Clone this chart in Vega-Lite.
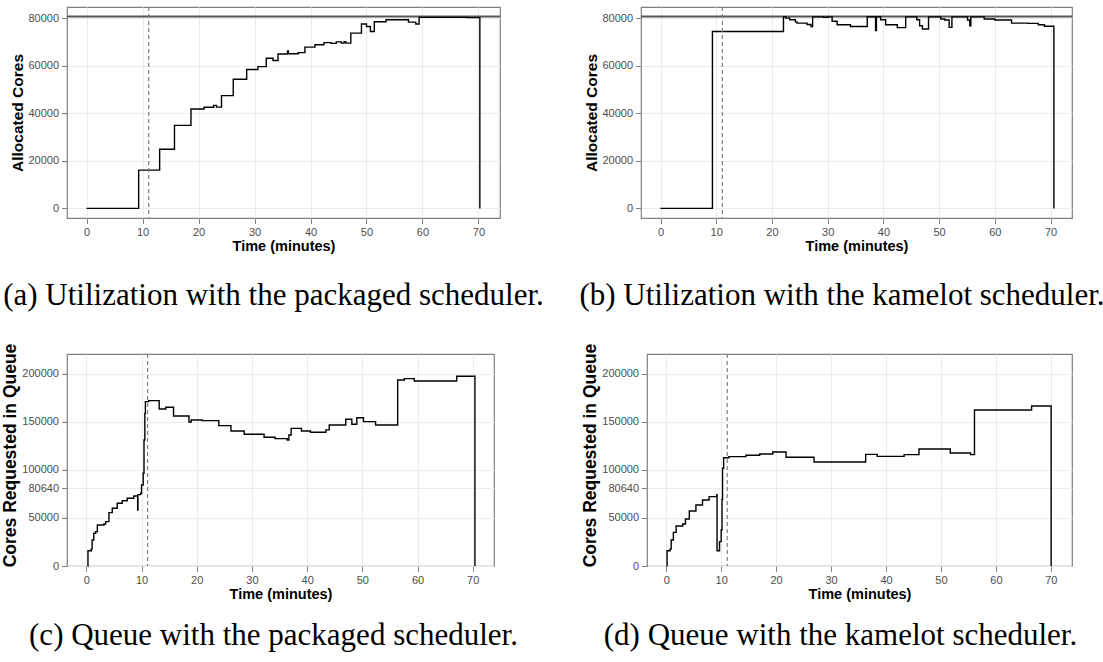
{
  "$schema": "https://vega.github.io/schema/vega-lite/v6.json",
  "usermeta": {"embedOptions": {"actions": false}},
  "background": "white",
  "padding": {"left": 1, "top": 5, "right": 0, "bottom": 0},
  "config": {
    "view": {"stroke": "#7f7f7f", "strokeWidth": 1.2},
    "axis": {
      "domain": false, "grid": true, "gridColor": "#ebebeb", "gridWidth": 1,
      "tickColor": "#7f7f7f", "tickSize": 5.5, "tickWidth": 1,
      "labelColor": "#4d4d4d", "labelFont": "Liberation Sans", "labelFontSize": 11, "labelPadding": 3,
      "titleFont": "Liberation Sans", "titleFontSize": 14.5, "titleFontWeight": "bold", "titleColor": "#000000", "titlePadding": 2
    },
    "title": {"font": "Liberation Serif", "fontSize": 31, "fontWeight": "normal", "color": "#000000", "orient": "bottom", "frame": "group", "anchor": "middle", "baseline": "alphabetic"}
  },
  "datasets": {
    "ref": [{"t": 11.1, "cap": 80640}],
    "a": [
      {"t": 0, "v": 0}, {"t": 9.3, "v": 16100}, {"t": 13.05, "v": 24900}, {"t": 15.7, "v": 34900}, {"t": 18.65, "v": 41800},
      {"t": 21.0, "v": 42500}, {"t": 22.7, "v": 43300}, {"t": 23.2, "v": 42600}, {"t": 24.1, "v": 47400}, {"t": 26.2, "v": 54300},
      {"t": 28.6, "v": 58400}, {"t": 30.6, "v": 59600}, {"t": 32.1, "v": 63100}, {"t": 33.3, "v": 62200}, {"t": 34.2, "v": 64900},
      {"t": 35.9, "v": 66200}, {"t": 36.05, "v": 65000}, {"t": 37.8, "v": 65500}, {"t": 39.0, "v": 67800}, {"t": 40.8, "v": 68800},
      {"t": 42.4, "v": 69700}, {"t": 43.7, "v": 69400}, {"t": 44.6, "v": 70000}, {"t": 45.5, "v": 69500}, {"t": 46.0, "v": 70100},
      {"t": 46.3, "v": 69500}, {"t": 47.2, "v": 73700}, {"t": 49.1, "v": 77500}, {"t": 50.0, "v": 76500}, {"t": 50.7, "v": 74400},
      {"t": 51.4, "v": 78500}, {"t": 53.5, "v": 79300}, {"t": 57.5, "v": 78300}, {"t": 58.8, "v": 77500}, {"t": 59.4, "v": 80300},
      {"t": 68.0, "v": 80200}, {"t": 70.25, "v": 0}
    ],
    "b": [
      {"t": 0, "v": 0}, {"t": 9.32, "v": 74400}, {"t": 22.07, "v": 80600}, {"t": 22.5, "v": 80000}, {"t": 23.2, "v": 79300},
      {"t": 24.2, "v": 78400}, {"t": 24.5, "v": 77900}, {"t": 26.3, "v": 77300}, {"t": 27.0, "v": 76500}, {"t": 27.3, "v": 80500},
      {"t": 29.3, "v": 80300}, {"t": 30.0, "v": 80500}, {"t": 30.8, "v": 78700}, {"t": 31.7, "v": 77200}, {"t": 34.1, "v": 76500},
      {"t": 37.1, "v": 80600}, {"t": 38.6, "v": 74800}, {"t": 38.75, "v": 80600}, {"t": 39.5, "v": 79300}, {"t": 40.4, "v": 77200},
      {"t": 42.5, "v": 76000}, {"t": 44.0, "v": 80500}, {"t": 46.0, "v": 79300}, {"t": 46.5, "v": 76800}, {"t": 47.0, "v": 75400},
      {"t": 48.1, "v": 80500}, {"t": 50.3, "v": 79600}, {"t": 51.0, "v": 79200}, {"t": 51.8, "v": 76100}, {"t": 52.3, "v": 80500},
      {"t": 55.1, "v": 79200}, {"t": 55.5, "v": 76800}, {"t": 55.7, "v": 80500}, {"t": 58.1, "v": 79600}, {"t": 60.0, "v": 79200},
      {"t": 63.0, "v": 77900}, {"t": 66.0, "v": 77800}, {"t": 67.8, "v": 77200}, {"t": 68.9, "v": 76600}, {"t": 70.6, "v": 0}
    ],
    "c": [
      {"t": 0.2, "v": 0}, {"t": 0.3, "v": 15900}, {"t": 0.9, "v": 17500}, {"t": 1.05, "v": 27000}, {"t": 1.35, "v": 34000},
      {"t": 1.7, "v": 35700}, {"t": 2.0, "v": 42600}, {"t": 3.2, "v": 43700}, {"t": 3.5, "v": 46100}, {"t": 4.1, "v": 55500},
      {"t": 4.7, "v": 60000}, {"t": 5.6, "v": 65200}, {"t": 6.5, "v": 67900}, {"t": 7.4, "v": 70400}, {"t": 8.6, "v": 72800},
      {"t": 9.3, "v": 58200}, {"t": 9.35, "v": 74200}, {"t": 9.85, "v": 75600}, {"t": 10.0, "v": 84200}, {"t": 10.3, "v": 96400},
      {"t": 10.45, "v": 131000}, {"t": 10.6, "v": 158700}, {"t": 10.7, "v": 170900}, {"t": 11.3, "v": 171900}, {"t": 13.2, "v": 163200},
      {"t": 14.4, "v": 165000}, {"t": 15.8, "v": 156000}, {"t": 18.6, "v": 149700}, {"t": 19.0, "v": 151800}, {"t": 21.0, "v": 151100},
      {"t": 24.0, "v": 145900}, {"t": 26.2, "v": 140400}, {"t": 28.6, "v": 136900}, {"t": 32.2, "v": 133800}, {"t": 34.2, "v": 132400},
      {"t": 36.4, "v": 131000}, {"t": 36.7, "v": 136200}, {"t": 37.1, "v": 143100}, {"t": 38.96, "v": 140400}, {"t": 40.6, "v": 139000},
      {"t": 43.4, "v": 141500}, {"t": 44.0, "v": 146600}, {"t": 47.0, "v": 152500}, {"t": 48.1, "v": 147300}, {"t": 49.0, "v": 154200},
      {"t": 50.2, "v": 150100}, {"t": 52.4, "v": 146600}, {"t": 56.4, "v": 193400}, {"t": 57.6, "v": 194800}, {"t": 59.4, "v": 192400},
      {"t": 67.1, "v": 197200}, {"t": 70.4, "v": 0}
    ],
    "d": [
      {"t": 0.1, "v": 0}, {"t": 0.15, "v": 15900}, {"t": 0.7, "v": 17500}, {"t": 0.9, "v": 27000}, {"t": 1.3, "v": 35000},
      {"t": 1.8, "v": 41600}, {"t": 3.0, "v": 43700}, {"t": 3.5, "v": 48900}, {"t": 4.2, "v": 57200}, {"t": 5.4, "v": 63400},
      {"t": 6.6, "v": 68600}, {"t": 7.8, "v": 72100}, {"t": 9.2, "v": 74200}, {"t": 9.25, "v": 15900}, {"t": 9.7, "v": 25300},
      {"t": 10.0, "v": 37400}, {"t": 10.15, "v": 69300}, {"t": 10.25, "v": 101600}, {"t": 10.45, "v": 112600}, {"t": 11.4, "v": 113700},
      {"t": 14.5, "v": 115100}, {"t": 17.0, "v": 116500}, {"t": 19.4, "v": 118500}, {"t": 21.8, "v": 113000}, {"t": 26.9, "v": 108100},
      {"t": 36.3, "v": 116100}, {"t": 38.4, "v": 114000}, {"t": 43.3, "v": 115800}, {"t": 46.0, "v": 121700}, {"t": 51.7, "v": 117500},
      {"t": 55.4, "v": 115800}, {"t": 56.1, "v": 162200}, {"t": 66.5, "v": 166400}, {"t": 70.05, "v": 0}
    ]
  },
  "vconcat": [
    {
      "spacing": 141,
      "bounds": "flush",
      "hconcat": [
        {
          "width": 433, "height": 211,
          "title": {"text": "(a) Utilization with the packaged scheduler.", "dx": -10, "offset": 28},
          "layer": [
            {"data": {"name": "ref"}, "mark": {"type": "rule", "color": "#555555", "strokeWidth": 2},
             "encoding": {"y": {"field": "cap", "type": "quantitative", "scale": {"domain": [-4032, 84672], "nice": false, "zero": false}, "axis": {"title": "Allocated Cores", "titleFontSize": 15.5, "values": [0, 20000, 40000, 60000, 80000], "format": "d"}}}},
            {"data": {"name": "a"}, "mark": {"type": "line", "interpolate": "step-after", "color": "#000000", "strokeWidth": 1.4},
             "encoding": {"x": {"field": "t", "type": "quantitative", "scale": {"domain": [-3.5, 73.85], "nice": false, "zero": false}, "axis": {"title": "Time (minutes)", "values": [0, 10, 20, 30, 40, 50, 60, 70]}},
                          "y": {"field": "v", "type": "quantitative", "scale": {"domain": [-4032, 84672], "nice": false, "zero": false}, "axis": {"title": "Allocated Cores", "titleFontSize": 15.5, "values": [0, 20000, 40000, 60000, 80000], "format": "d"}}}},
            {"data": {"name": "ref"}, "mark": {"type": "rule", "color": "#7f7f7f", "strokeWidth": 1.2, "strokeDash": [4, 3]},
             "encoding": {"x": {"field": "t", "type": "quantitative", "scale": {"domain": [-3.5, 73.85], "nice": false, "zero": false}, "axis": {"title": "Time (minutes)", "values": [0, 10, 20, 30, 40, 50, 60, 70]}}}}
          ]
        },
        {
          "width": 431, "height": 211,
          "title": {"text": "(b) Utilization with the kamelot scheduler.", "dx": -14.5, "offset": 28},
          "layer": [
            {"data": {"name": "ref"}, "mark": {"type": "rule", "color": "#555555", "strokeWidth": 2},
             "encoding": {"y": {"field": "cap", "type": "quantitative", "scale": {"domain": [-4032, 84672], "nice": false, "zero": false}, "axis": {"title": "Allocated Cores", "titleFontSize": 15.5, "values": [0, 20000, 40000, 60000, 80000], "format": "d"}}}},
            {"data": {"name": "b"}, "mark": {"type": "line", "interpolate": "step-after", "color": "#000000", "strokeWidth": 1.4},
             "encoding": {"x": {"field": "t", "type": "quantitative", "scale": {"domain": [-3.5, 73.85], "nice": false, "zero": false}, "axis": {"title": "Time (minutes)", "values": [0, 10, 20, 30, 40, 50, 60, 70]}},
                          "y": {"field": "v", "type": "quantitative", "scale": {"domain": [-4032, 84672], "nice": false, "zero": false}, "axis": {"title": "Allocated Cores", "titleFontSize": 15.5, "values": [0, 20000, 40000, 60000, 80000], "format": "d"}}}},
            {"data": {"name": "ref"}, "mark": {"type": "rule", "color": "#7f7f7f", "strokeWidth": 1.2, "strokeDash": [4, 3]},
             "encoding": {"x": {"field": "t", "type": "quantitative", "scale": {"domain": [-3.5, 73.85], "nice": false, "zero": false}, "axis": {"title": "Time (minutes)", "values": [0, 10, 20, 30, 40, 50, 60, 70]}}}}
          ]
        }
      ]
    },
    {
      "spacing": 153,
      "bounds": "flush",
      "hconcat": [
        {
          "width": 427, "height": 212,
          "title": {"text": "(c) Queue with the packaged scheduler.", "dx": -7, "offset": 20},
          "layer": [
            {"data": {"name": "c"}, "mark": {"type": "line", "interpolate": "step-after", "color": "#000000", "strokeWidth": 1.4},
             "encoding": {"x": {"field": "t", "type": "quantitative", "scale": {"domain": [-3.5, 73.85], "nice": false, "zero": false}, "axis": {"title": "Time (minutes)", "values": [0, 10, 20, 30, 40, 50, 60, 70]}},
                          "y": {"field": "v", "type": "quantitative", "scale": {"domain": [0, 220400], "nice": false, "zero": false}, "axis": {"title": "Cores Requested in Queue", "titleFontSize": 17.5, "titleY": 101, "values": [0, 50000, 80640, 100000, 150000, 200000], "format": "d"}}}},
            {"data": {"name": "ref"}, "mark": {"type": "rule", "color": "#7f7f7f", "strokeWidth": 1.2, "strokeDash": [4, 3]},
             "encoding": {"x": {"field": "t", "type": "quantitative", "scale": {"domain": [-3.5, 73.85], "nice": false, "zero": false}, "axis": {"title": "Time (minutes)", "values": [0, 10, 20, 30, 40, 50, 60, 70]}}}}
          ]
        },
        {
          "width": 425, "height": 212,
          "title": {"text": "(d) Queue with the kamelot scheduler.", "dx": -19, "offset": 20},
          "layer": [
            {"data": {"name": "d"}, "mark": {"type": "line", "interpolate": "step-after", "color": "#000000", "strokeWidth": 1.4},
             "encoding": {"x": {"field": "t", "type": "quantitative", "scale": {"domain": [-3.5, 73.85], "nice": false, "zero": false}, "axis": {"title": "Time (minutes)", "values": [0, 10, 20, 30, 40, 50, 60, 70]}},
                          "y": {"field": "v", "type": "quantitative", "scale": {"domain": [0, 220400], "nice": false, "zero": false}, "axis": {"title": "Cores Requested in Queue", "titleFontSize": 17.5, "titleY": 101, "values": [0, 50000, 80640, 100000, 150000, 200000], "format": "d"}}}},
            {"data": {"name": "ref"}, "mark": {"type": "rule", "color": "#7f7f7f", "strokeWidth": 1.2, "strokeDash": [4, 3]},
             "encoding": {"x": {"field": "t", "type": "quantitative", "scale": {"domain": [-3.5, 73.85], "nice": false, "zero": false}, "axis": {"title": "Time (minutes)", "values": [0, 10, 20, 30, 40, 50, 60, 70]}}}}
          ]
        }
      ]
    }
  ],
  "spacing": 30,
  "align": "none"
}
